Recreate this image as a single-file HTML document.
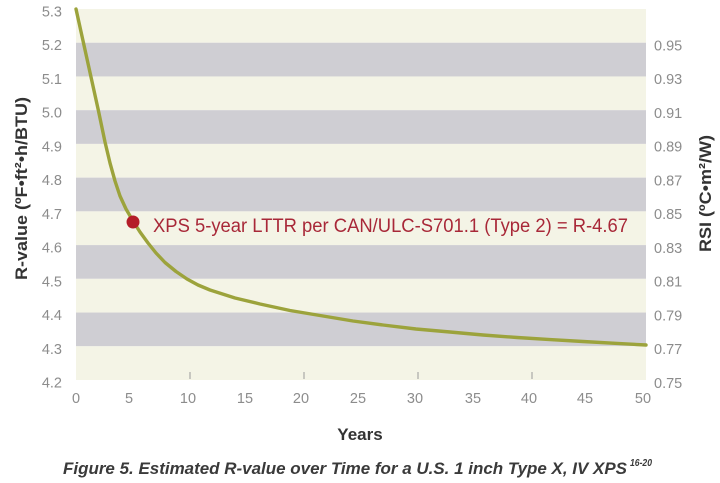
<!DOCTYPE html>
<html>
<head>
<meta charset="utf-8">
<style>
  html, body { margin: 0; padding: 0; background: #ffffff; }
  body { width: 720px; height: 483px; overflow: hidden; }
  svg { display: block; }
  .tick { font-family: "Liberation Sans", sans-serif; font-size: 14.5px; fill: #8c8c8c; }
  .ttl { font-family: "Liberation Sans", sans-serif; font-weight: bold; fill: #333333; }
</style>
</head>
<body>
<svg width="720" height="483" viewBox="0 0 720 483" xmlns="http://www.w3.org/2000/svg">
  <rect x="0" y="0" width="720" height="483" fill="#ffffff"/>
  <!-- bands -->
  <g>
    <rect x="76" y="9" width="570" height="33.73" fill="#f4f4e6"/>
    <rect x="76" y="42.73" width="570" height="33.73" fill="#cfced3"/>
    <rect x="76" y="76.46" width="570" height="33.73" fill="#f4f4e6"/>
    <rect x="76" y="110.18" width="570" height="33.73" fill="#cfced3"/>
    <rect x="76" y="143.91" width="570" height="33.73" fill="#f4f4e6"/>
    <rect x="76" y="177.64" width="570" height="33.73" fill="#cfced3"/>
    <rect x="76" y="211.36" width="570" height="33.73" fill="#f4f4e6"/>
    <rect x="76" y="245.09" width="570" height="33.73" fill="#cfced3"/>
    <rect x="76" y="278.82" width="570" height="33.73" fill="#f4f4e6"/>
    <rect x="76" y="312.55" width="570" height="33.73" fill="#cfced3"/>
    <rect x="76" y="346.27" width="570" height="33.73" fill="#f4f4e6"/>
  </g>
  <!-- small ticks -->
  <g stroke="#9a9a9a" stroke-width="1">
    <line x1="190" y1="372" x2="190" y2="379"/>
    <line x1="304" y1="372" x2="304" y2="379"/>
    <line x1="418" y1="372" x2="418" y2="379"/>
    <line x1="532" y1="372" x2="532" y2="379"/>
  </g>
  <!-- left tick labels -->
  <g class="tick" text-anchor="end">
    <text x="62" y="16.5">5.3</text>
    <text x="62" y="50.2">5.2</text>
    <text x="62" y="84">5.1</text>
    <text x="62" y="117.7">5.0</text>
    <text x="62" y="151.4">4.9</text>
    <text x="62" y="185.1">4.8</text>
    <text x="62" y="218.9">4.7</text>
    <text x="62" y="252.6">4.6</text>
    <text x="62" y="286.3">4.5</text>
    <text x="62" y="320">4.4</text>
    <text x="62" y="353.8">4.3</text>
    <text x="62" y="387.5">4.2</text>
  </g>
  <!-- right tick labels -->
  <g class="tick" text-anchor="start">
    <text x="654" y="50.5">0.95</text>
    <text x="654" y="84.2">0.93</text>
    <text x="654" y="118">0.91</text>
    <text x="654" y="151.7">0.89</text>
    <text x="654" y="185.4">0.87</text>
    <text x="654" y="219.2">0.85</text>
    <text x="654" y="252.9">0.83</text>
    <text x="654" y="286.6">0.81</text>
    <text x="654" y="320.3">0.79</text>
    <text x="654" y="354.1">0.77</text>
    <text x="654" y="387.8">0.75</text>
  </g>
  <!-- x tick labels -->
  <g class="tick" text-anchor="middle">
    <text x="76" y="403">0</text>
    <text x="129" y="403">5</text>
    <text x="188" y="403">10</text>
    <text x="245" y="403">15</text>
    <text x="301" y="403">20</text>
    <text x="358" y="403">25</text>
    <text x="415" y="403">30</text>
    <text x="473" y="403">35</text>
    <text x="529" y="403">40</text>
    <text x="585" y="403">45</text>
    <text x="643" y="403">50</text>
  </g>
  <!-- curve -->
  <polyline fill="none" stroke="#9ca33c" stroke-width="3.4" stroke-linejoin="round" stroke-linecap="round"
    points="76,9 83.5,43 91,77 98.5,111 105,142 110,163 115,181 120,196 126,209 133,221 140,232 148,243 156,253 165,262.5 176,271.5 187,279 198,285 210,290 235,298 260,304 290,310.5 323,316 353,321 383,325 416,329 450,332 483,335 517,337.5 550,339.6 583,341.5 615,343.3 646,345"/>
  <!-- marker -->
  <circle cx="133" cy="222" r="6.5" fill="#b41d28"/>
  <!-- annotation -->
  <text x="153" y="232" font-family="Liberation Sans, sans-serif" font-size="19" fill="#a82838" textLength="475" lengthAdjust="spacingAndGlyphs">XPS 5-year LTTR per CAN/ULC-S701.1 (Type 2) = R-4.67</text>
  <!-- axis titles -->
  <text class="ttl" font-size="16.5" text-anchor="middle" transform="translate(27,188.5) rotate(-90)" textLength="183" lengthAdjust="spacingAndGlyphs">R-value (ºF•ft²•h/BTU)</text>
  <text class="ttl" font-size="16.5" text-anchor="middle" transform="translate(711,193.5) rotate(-90)" textLength="117" lengthAdjust="spacingAndGlyphs">RSI (ºC•m²/W)</text>
  <text class="ttl" x="360" y="440" font-size="17" text-anchor="middle">Years</text>
  <!-- caption -->
  <text x="63" y="474" font-family="Liberation Sans, sans-serif" font-weight="bold" font-style="italic" font-size="17" fill="#3a3a3a" textLength="564" lengthAdjust="spacingAndGlyphs">Figure 5. Estimated R-value over Time for a U.S. 1 inch Type X, IV XPS</text>
  <text x="630" y="466" font-family="Liberation Sans, sans-serif" font-weight="bold" font-style="italic" font-size="10" fill="#3a3a3a" textLength="22" lengthAdjust="spacingAndGlyphs">16-20</text>
</svg>
</body>
</html>
